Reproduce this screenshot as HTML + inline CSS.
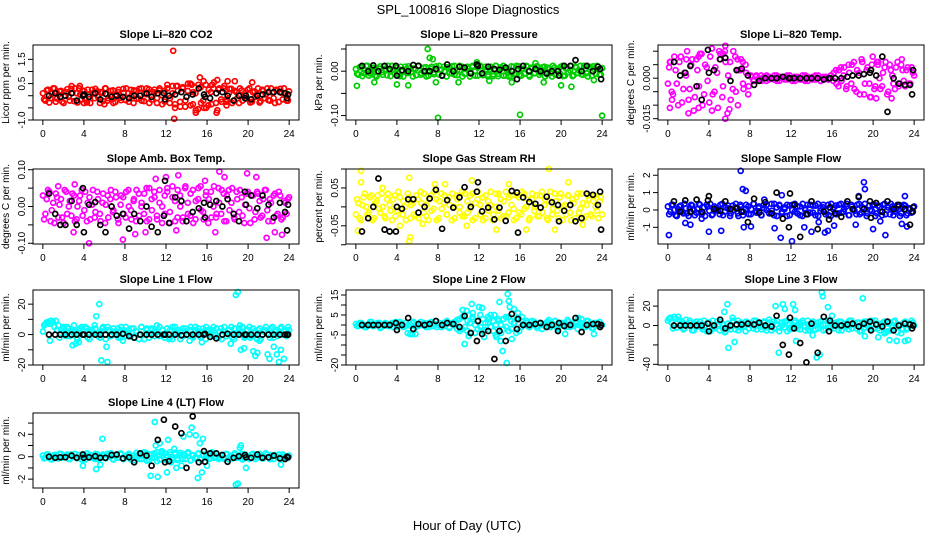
<!DOCTYPE html>
<html><head><meta charset="utf-8"><title>SPL_100816 Slope Diagnostics</title>
<style>
html,body{margin:0;padding:0;background:#fff;}
svg{display:block;font-family:"Liberation Sans",Arial,sans-serif;}
</style></head>
<body>
<svg id="chart" width="936" height="540" viewBox="0 0 936 540" xmlns="http://www.w3.org/2000/svg">
<rect x="0" y="0" width="936" height="540" fill="#fff"/>
<text x="468" y="14" font-size="13" text-anchor="middle">SPL_100816  Slope Diagnostics</text>
<text x="467" y="530" font-size="13" text-anchor="middle">Hour of Day (UTC)</text>
</svg>
<script>
// ---- shared data ----
const xTicks = [0,4,8,12,16,20,24];
const blackHours = [0.6,1.2,1.7,2.2,2.8,3.3,3.9,4.0,4.5,5.1,5.6,6.1,6.7,7.2,7.8,8.4,8.9,9.5,10.1,10.6,11.2,11.8,11.9,12.3,12.9,13.5,14.0,14.6,15.2,15.7,15.8,16.3,16.9,17.5,18.0,18.6,19.1,19.7,19.8,20.3,20.9,21.4,22.0,22.5,23.1,23.6,23.8,23.9];

// Panel 1: CO2
const co2Band = [0.1,-0.2,0.25,-0.1,0.3,-0.25,0.05,0.2,-0.3,0.15,-0.05,0.28,-0.22,0.1,0.3,-0.15,0.2,-0.28,0.05,0.25,-0.1,0.18,-0.3,0.12,0.3,-0.2,0.0,0.22,-0.26,0.15,-0.08,0.28,-0.18,0.1,0.24,-0.3,0.2,-0.12,0.3,-0.22,0.06,0.26,-0.16,0.14,-0.3,0.22,0.02,-0.24,0.3,-0.1,0.4,-0.35,0.2,-0.45,0.35,-0.2,0.5,-0.4,0.15,-0.6,0.45,-0.3,0.6,-0.5,0.25,-0.35,0.55,-0.7,0.3,-0.25,0.4,-0.15,0.28,-0.3,0.2,-0.1,0.3,-0.2,0.1,0.25,-0.28,0.15,-0.05,0.3,-0.22,0.2,0.05,-0.18,0.3,-0.1,0.25,-0.26,0.12,0.3,-0.2,0.18];
const co2BandB = [-0.15,0.22,-0.28,0.08,0.3,-0.12,0.18,-0.25,0.0,0.27,-0.2,0.12,0.3,-0.28,0.05,0.2,-0.15,0.25,-0.3,0.1,0.28,-0.05,0.15,-0.22,0.3,-0.1,0.2,-0.3,0.05,0.25,-0.18,0.12,0.3,-0.25,0.0,0.22,-0.12,0.28,-0.2,0.08,0.3,-0.3,0.15,0.25,-0.1,0.3,-0.35,0.2,0.45,-0.3,0.1,-0.5,0.4,-0.25,0.3,-0.45,0.2,0.5,-0.35,0.1,-0.55,0.35,-0.2,0.45,-0.4,0.15,0.3,-0.3,0.25,-0.15,0.3,-0.25,0.1,0.28,-0.2,0.15,-0.3,0.22,0.0,-0.12,0.3,-0.25,0.18,0.05,-0.28,0.25,-0.1,0.3,-0.2,0.12,-0.3,0.22,0.28,-0.15,0.1,-0.2];
const co2Out = [[12.7,1.85],[12.8,-0.95],[15.3,0.75],[14.9,-0.7],[15.7,-0.5],[17.0,0.65],[17.0,-0.6],[18.0,0.6],[18.7,0.6],[17.9,-0.4],[20.4,0.55],[16.5,0.45],[14.5,0.45],[13.0,0.4],[4.0,-0.3],[6.0,-0.35],[2.8,0.4],[3.6,0.4]];
const co2Black = [0.0,0.1,-0.05,0.0,0.1,-0.2,0.0,0.05,-0.05,0.1,-0.15,0.08,-0.05,0.0,-0.05,-0.1,0.0,0.0,0.1,-0.05,0.1,0.1,-0.15,0.0,0.05,0.15,-0.05,0.05,0.3,0.05,-0.05,-0.1,0.1,0.15,0.0,-0.2,0.0,-0.1,0.0,-0.15,0.0,0.05,0.15,0.15,0.15,0.1,-0.1,0.05];
const co2Ticks = [-1.0,-0.5,0,0.5,1.0,1.5];
const co2TickLabels = ["-1.0","","","0.5","","1.5"];

// Panel 2: Pressure
const presBand = [0.005,-0.008,0.01,-0.004,0.012,-0.01,0.002,0.008,-0.012,0.006,-0.002,0.011,-0.009,0.004,0.012,-0.006,0.008,-0.011,0.002,0.01,-0.004,0.007,-0.012,0.005,0.012,-0.008,0.0,0.009,-0.01,0.006,-0.003,0.011,-0.007,0.004,0.01,-0.012,0.008,-0.005,0.012,-0.009,0.002,0.01,-0.006,0.006,-0.012,0.009,0.001,-0.01,0.012,-0.004,0.01,-0.008,0.005,-0.011,0.012,-0.006,0.009,-0.01,0.004,-0.012,0.011,-0.007,0.012,-0.009,0.005,-0.006,0.01,-0.012,0.006,-0.004,0.011,-0.003,0.009,-0.012,0.008,-0.004,0.012,-0.008,0.004,0.01,-0.011,0.006,-0.002,0.012,-0.009,0.008,0.002,-0.007,0.012,-0.004,0.01,-0.01,0.005,0.012,-0.008,0.007];
const presBandB = [-0.006,0.009,-0.011,0.003,0.012,-0.005,0.007,-0.01,0.0,0.011,-0.008,0.005,0.012,-0.011,0.002,0.008,-0.006,0.01,-0.012,0.004,0.011,-0.002,0.006,-0.009,0.012,-0.004,0.008,-0.012,0.002,0.01,-0.007,0.005,0.012,-0.01,0.0,0.009,-0.005,0.011,-0.008,0.003,0.012,-0.012,0.006,0.01,-0.004,0.012,-0.01,0.008,0.011,-0.009,0.004,-0.012,0.01,-0.007,0.012,-0.011,0.006,0.012,-0.01,0.003,-0.012,0.01,-0.006,0.011,-0.01,0.005,0.012,-0.009,0.008,-0.005,0.011,-0.008,0.003,0.01,-0.007,0.005,-0.012,0.008,0.0,-0.005,0.012,-0.01,0.007,0.002,-0.011,0.01,-0.004,0.012,-0.008,0.005,-0.012,0.009,0.011,-0.006,0.004,-0.008];
const presOut = [[7.0,0.05],[7.2,0.03],[7.5,0.027],[8.0,-0.105],[16.0,-0.098],[24.0,-0.1],[0.1,-0.033],[4.0,-0.03],[5.1,-0.032],[20.0,-0.032],[21.0,-0.035],[1.8,-0.025],[7.8,-0.025],[10.0,-0.025],[15.2,-0.025],[18.3,-0.025],[13.0,-0.022],[11.8,0.02],[17.5,0.018],[23.2,-0.02]];
const presBlack = [0.012,0.0,0.013,0.0,0.012,0.005,0.012,-0.01,0.002,0.0,0.014,0.012,0.0,0.0,0.005,-0.01,0.015,0.0,0.01,0.008,-0.005,0.015,0.012,-0.005,0.01,0.005,0.003,0.008,0.0,-0.018,0.005,0.012,0.0,0.005,0.0,-0.005,0.0,0.0,-0.01,0.012,0.012,0.025,0.0,0.012,0.0,0.01,0.005,-0.018];
const presTicks = [-0.10,-0.05,0.00,0.05];
const presTickLabels = ["-0.10","","0.00",""];

// Panel 3: Li-820 Temp
const tempBand = [-0.002,0.006,-0.006,0.003,-0.01,0.008,-0.004,0.001,-0.008,0.005,-0.012,0.007,-0.003,0.009,-0.006,0.004,-0.009,0.011,-0.005,0.002,0.007,-0.007,0.01,-0.013,0.006,-0.004,0.008,-0.01,0.003,-0.002,0.005,-0.006,0.001,-0.001,0.0005,-0.0005,0.001,0.0,-0.001,0.0005,0.0,-0.0005,0.001,-0.001,0.0,0.0005,-0.0005,0.001,0.0,-0.001,0.0005,0.0,-0.0005,0.001,-0.001,0.0,0.0005,-0.0005,0.001,-0.001,0.0,0.0005,-0.0005,0.001,0.002,-0.002,0.003,-0.001,0.004,-0.003,0.002,0.005,-0.004,0.003,-0.006,0.006,-0.002,0.004,-0.007,0.008,-0.003,0.005,-0.004,0.002,0.006,-0.005,0.003,-0.002,0.004,-0.003,0.005,-0.001,0.003,-0.002,0.004,0.001];
const tempBandB = [0.004,-0.005,0.008,-0.002,0.006,-0.009,0.002,0.01,-0.004,0.007,-0.007,0.003,0.009,-0.01,0.005,-0.001,0.008,-0.006,0.004,-0.011,0.009,-0.003,0.006,0.001,-0.008,0.01,-0.005,0.003,0.007,-0.004,0.002,-0.003,0.0005,-0.0005,0.001,0,-0.001,0.0005,0.001,-0.0005,0,0.001,-0.001,0.0005,0,-0.0005,0.001,0,-0.001,0.0005,0,-0.0005,0.001,-0.001,0.0005,0,-0.0005,0.001,0,-0.001,0.0005,0,-0.0005,0.001,-0.001,0.003,-0.003,0.004,0.001,-0.004,0.005,-0.002,0.006,-0.005,0.002,0.007,-0.006,0.003,-0.002,0.005,-0.004,0.006,0.0,-0.003,0.004,-0.006,0.005,0.001,-0.004,0.006,-0.002,0.003,-0.003,0.004,-0.002,0.002];
const tempOut = [[5.6,0.012],[5.0,0.01],[5.4,0.009],[2.0,-0.013],[5.6,-0.015],[0.2,-0.011],[4.3,-0.012],[3.0,-0.011],[6.0,-0.0115],[0.4,-0.008],[0.2,0.006],[22.8,0.007],[20.5,0.006],[19.8,-0.007],[20.3,-0.0075],[21.8,-0.0075],[1.8,0.007],[3.0,0.008],[6.8,0.007],[7.3,0.006]];
const tempBlack = [0.006,0.001,0.002,0.0045,-0.003,-0.008,0.0105,0.002,0.003,0.007,0.0075,-0.001,0.003,0.0035,0.001,-0.0025,-0.001,0,0,0,0.0005,0,0,0,0,0,0,0,-0.0005,0,0,0,0,0.0005,0.001,0.001,0.0015,0.002,0.003,0.001,0.008,-0.0125,0,-0.002,-0.0025,-0.0025,-0.006,0.003];
const tempTicks = [-0.015,-0.010,-0.005,0.000,0.005,0.010];
const tempTickLabels = ["-0.015","","","0.000","",""];

// Panel 4: Amb Box Temp
const ambBand = [0.03,-0.02,0.045,-0.04,0.01,0.035,-0.03,0.02,-0.045,0.04,0.0,-0.025,0.03,-0.035,0.015,0.045,-0.01,-0.04,0.025,0.005,-0.03,0.04,-0.02,0.01,-0.045,0.03,0.02,-0.015,0.04,-0.035,0.005,0.025,-0.03,0.045,-0.01,0.015,-0.04,0.035,0.0,-0.02,0.05,-0.035,0.02,0.04,-0.025,0.01,-0.045,0.03,0.05,-0.015,0.025,-0.04,0.045,0.0,-0.03,0.055,-0.02,0.035,-0.045,0.015,0.05,-0.01,-0.035,0.04,0.02,-0.03,0.055,-0.02,0.01,0.045,-0.04,0.03,-0.01,0.05,-0.035,0.02,0.045,-0.025,0.005,0.04,-0.045,0.03,-0.015,0.035,-0.03,0.02,0.045,-0.04,0.01,0.03,-0.025,0.04,-0.035,0.015,-0.02,0.025];
const ambBandB = [-0.035,0.02,0.04,-0.01,-0.045,0.025,0.005,-0.03,0.045,-0.02,0.015,0.035,-0.04,0.0,0.03,-0.025,0.04,0.01,-0.035,0.045,-0.015,0.02,-0.04,0.035,0.005,-0.03,0.045,-0.01,0.025,-0.045,0.03,-0.02,0.04,0.0,-0.035,0.02,0.045,-0.025,0.01,0.035,-0.04,0.05,-0.01,0.025,-0.035,0.045,0.0,-0.02,0.04,-0.045,0.055,0.015,-0.03,0.03,-0.04,0.05,0.01,-0.025,0.045,-0.035,0.02,0.055,-0.015,0.03,-0.045,0.04,0.0,-0.03,0.05,-0.02,0.035,-0.04,0.045,0.01,-0.03,0.04,-0.015,0.025,-0.045,0.035,-0.005,0.03,-0.035,0.04,0.015,-0.025,0.045,-0.01,0.02,-0.04,0.035,-0.02,0.03,-0.03,0.01,0.02];
const ambOut = [[4.5,-0.1],[3.0,-0.07],[7.8,-0.09],[10.0,-0.07],[12.0,0.08],[13.2,0.085],[17.2,0.095],[17.7,0.08],[19.9,0.09],[20.8,0.08],[21.8,-0.085],[22.6,-0.07],[16.8,-0.07],[13.0,-0.065],[15.8,0.07],[3.1,0.06],[1.5,0.055],[23.3,-0.077],[9.0,-0.075],[11.0,0.075]];
const ambBlack = [0.035,-0.02,-0.05,-0.05,0.015,-0.05,0.05,-0.07,0.005,0.012,-0.05,-0.07,0.0,-0.025,-0.02,-0.06,-0.02,-0.04,0.0,-0.055,-0.07,-0.025,0.07,-0.045,0.025,0.015,-0.04,-0.015,-0.005,0.01,-0.03,0.005,0.015,0.0,0.02,-0.02,-0.04,0.04,0.005,0.03,-0.005,0.03,0.005,-0.03,0.01,-0.015,-0.065,0.005];
const ambTicks = [-0.10,-0.05,0.00,0.05,0.10];
const ambTickLabels = ["-0.10","","0.00","","0.10"];

// Panel 5: Gas Stream RH
const rhBand = [-0.02,0.01,-0.035,0.025,0.0,-0.015,0.03,-0.03,0.015,-0.005,0.035,-0.025,0.02,0.005,-0.035,0.03,-0.01,0.025,-0.02,0.0,0.035,-0.03,0.01,-0.025,0.02,0.04,-0.015,0.005,-0.035,0.03,-0.005,0.02,-0.03,0.035,0.01,-0.02,0.025,-0.035,0.0,0.03,-0.015,0.04,-0.025,0.015,-0.005,0.035,-0.03,0.02,0.005,-0.035,0.03,-0.01,0.04,-0.02,0.0,0.035,-0.03,0.015,-0.025,0.025,0.005,-0.035,0.03,-0.015,0.04,-0.005,0.02,-0.03,0.035,0.0,-0.025,0.03,-0.015,0.02,-0.035,0.04,-0.005,0.015,-0.03,0.035,0.0,-0.02,0.03,-0.035,0.01,0.025,-0.015,0.035,-0.03,0.005,0.02,-0.025,0.03,-0.01,0.015,-0.02];
const rhBandB = [0.02,-0.03,0.005,0.035,-0.02,0.025,-0.035,0.01,0.03,-0.015,0.0,-0.03,0.035,-0.01,0.02,-0.025,0.04,-0.005,0.015,-0.035,0.025,0.005,-0.02,0.03,-0.03,0.01,0.035,-0.025,0.02,-0.01,0.04,-0.035,0.015,-0.005,0.03,-0.02,0.005,0.035,-0.03,0.02,0.0,-0.025,0.035,-0.015,0.03,-0.035,0.01,0.04,-0.02,0.025,-0.03,0.015,0.005,-0.035,0.035,-0.01,0.02,-0.025,0.04,-0.015,0.03,-0.005,-0.03,0.025,-0.02,0.035,0.0,-0.035,0.02,-0.01,0.03,-0.025,0.04,0.005,-0.03,0.015,-0.02,0.035,-0.01,0.025,-0.035,0.005,0.03,-0.015,0.02,-0.03,0.035,-0.005,0.01,-0.025,0.03,-0.02,0.015,0.0,-0.03,0.025];
const rhOut = [[0.5,0.095],[0.5,0.065],[0.2,-0.063],[5.2,0.077],[5.2,-0.09],[5.3,-0.08],[11.3,0.07],[18.8,0.1],[19.4,-0.06],[16.6,-0.06],[13.7,-0.06],[7.7,0.06],[8.7,0.06],[14.9,0.06],[20.7,0.065],[22.1,-0.047],[4.3,-0.05],[2.6,0.05],[6.5,-0.045],[10.8,-0.05]];
const rhBlack = [-0.065,-0.03,0.0,0.075,-0.06,-0.065,-0.065,0.0,-0.005,0.02,0.02,-0.015,0.0,0.022,0.045,-0.058,0.018,-0.002,0.025,0.052,0.0,0.04,0.065,-0.012,-0.002,-0.033,-0.002,-0.037,0.042,0.038,-0.068,0.025,0.013,0.008,-0.002,0.027,0.012,0.005,-0.038,-0.01,0.005,-0.038,-0.03,0.035,0.032,0.005,0.04,-0.06];
const rhTicks = [-0.10,-0.05,0.00,0.05,0.10];
const rhTickLabels = ["","-0.05","","0.05",""];

// Panel 6: Sample Flow
const sfBand = [0.2,-0.1,0.3,-0.3,0.05,0.25,-0.2,0.1,-0.35,0.3,0.0,-0.15,0.35,-0.25,0.15,0.3,-0.05,-0.3,0.2,0.05,-0.25,0.35,-0.1,0.1,-0.35,0.25,0.15,-0.2,0.3,-0.3,0.05,0.2,-0.25,0.35,-0.05,0.1,-0.3,0.3,0.0,-0.15,0.35,-0.3,0.15,0.3,-0.2,0.05,-0.35,0.25,0.3,-0.1,0.2,-0.3,0.35,0.0,-0.25,0.3,-0.15,0.25,-0.35,0.1,0.3,-0.05,-0.3,0.35,0.15,-0.25,0.3,-0.15,0.05,0.35,-0.3,0.2,-0.05,0.3,-0.25,0.15,0.35,-0.2,0.0,0.3,-0.35,0.25,-0.1,0.3,-0.25,0.15,0.35,-0.3,0.05,0.2,-0.2,0.3,-0.3,0.1,-0.15,0.2];
const sfBandB = [-0.25,0.3,0.0,-0.35,0.2,-0.1,0.35,-0.2,0.1,0.25,-0.3,0.05,0.3,-0.15,-0.35,0.2,0.35,-0.25,0.1,-0.05,0.3,-0.3,0.15,0.25,-0.2,0.0,0.35,-0.35,0.2,-0.1,0.3,-0.25,0.05,0.35,-0.15,0.2,-0.3,0.1,0.3,-0.2,-0.05,0.35,-0.35,0.25,-0.1,0.15,0.3,-0.3,0.0,0.35,-0.2,0.2,-0.35,0.1,0.3,-0.15,0.25,-0.3,0.35,-0.05,0.15,-0.25,0.3,-0.35,0.05,0.25,-0.2,0.35,-0.1,0.2,-0.3,0.3,0.0,-0.25,0.35,-0.15,0.1,-0.35,0.25,-0.05,0.3,-0.2,0.15,-0.3,0.35,0.0,-0.25,0.2,-0.1,0.3,-0.35,0.15,0.25,-0.2,0.05,-0.1];
const sfOut = [[0.1,-1.45],[1.7,-0.75],[2.2,-0.85],[4.0,-1.25],[5.2,-1.2],[7.1,2.25],[7.3,1.2],[7.6,1.1],[7.4,-1.0],[8.1,-0.95],[10.4,-1.05],[11.0,-1.6],[11.1,0.85],[12.1,-1.8],[13.3,-1.0],[14.0,-1.25],[14.7,-0.7],[15.3,-1.3],[15.6,-1.2],[16.2,-0.9],[18.3,-0.85],[18.6,0.8],[19.1,1.6],[19.2,1.2],[20.0,-1.1],[20.7,-0.65],[21.2,-1.45],[22.8,-0.8],[23.1,0.8],[23.3,-0.95],[3.3,-0.5],[9.4,0.6]];
const sfBlack = [0.5,-0.1,0.55,-0.1,0.6,-0.1,0.55,0.8,0.05,-0.05,0.5,0.05,0.1,-0.1,-0.7,0.65,-0.15,0.45,-0.2,1.0,-0.5,-1.0,0.95,0.3,-1.55,-0.25,0.5,-1.1,-0.1,-0.55,0.15,-0.2,-0.4,0.5,0.05,0.75,0.05,0.5,-0.45,0.4,-0.1,0.5,0.05,0.3,0.05,-0.85,-0.1,0.15];
const sfTicks = [-1,0,1,2];
const sfTickLabels = ["-1","0","1","2"];

// Panel 7: Line 1 Flow
const l1Band = [2,7,8,9,8,9,6,3,5,-1,4,2,6,-2,3,5,0,4,-3,2,6,1,-2,4,3,5,-1,2,0,4,-2,3,5,1,-1,4,2,-3,5,0,3,-2,4,2,6,-1,3,0,4,-2,5,1,3,-3,4,2,0,5,-1,3,4,-2,2,5,0,3,-1,4,2,-3,5,1,3,-2,4,0,2,5,-1,3,-2,4,1,3,-3,2,5,0,4,-2,3,1,5,2,-1,3];
const l1BandB = [6,8,7,9,5,3,-2,4,1,5,-1,3,2,-3,4,0,5,-2,3,1,4,-1,2,5,-3,3,0,4,2,-2,5,1,-1,3,4,-2,2,0,5,-3,4,1,3,-1,2,5,0,-2,4,3,-3,5,1,2,-1,4,0,3,-2,5,2,-1,4,-3,3,1,5,0,-2,4,2,-1,3,5,-3,1,4,0,-2,3,5,-1,2,-3,4,0,3,1,-2,5,2,-1,4,0,3,1];
const l1Out = [[0.7,-4],[2.9,-7],[3.2,-6],[3.5,-5],[5.2,12],[5.5,20],[5.7,-17],[6.2,-8],[6.3,-18],[7.8,-4],[18.3,-6],[18.8,26],[19.0,28],[19.2,6],[19.3,-10],[19.6,-9],[20.5,-11],[20.7,-14],[20.9,-12],[21.1,-4],[21.9,-13],[22.1,-16],[22.5,-8],[22.8,-13],[23.0,-18],[23.2,-10],[23.5,-16],[23.9,5],[12.3,-3],[14.3,-4],[15.5,-5]];
const l1Black = [0,0,0,0,0,0,0,0,0,0,0,0,0,0,0.5,-1,-2,0,0,0,0,0,0,0,0,-0.5,0,0,0,0,0.5,-1.5,-2.5,0,0.5,0,0,0,0,0,0,0,0,0,0,0,0,0];
const l1Ticks = [-20,-10,0,10,20];
const l1TickLabels = ["-20","","0","","20"];

// Panel 8: Line 2 Flow
const l2Band = [0.5,-0.5,1,0,-1,0.5,1.5,-0.5,0,1,-1,0.5,0,-0.5,1,0.5,-1,1.5,0,-0.5,-4,-4.5,1,0.5,-0.5,1.5,0,-1,1,0.5,-0.5,2,0,-1,1,0.5,-1.5,1,0,2.5,3,-2,5,-3,1,4,-4,2,-1,3,-2.5,1,5,-3,0,2,-4,3,-1,4,-2,1,3,-3,2,0,1,-1,2,0.5,-1.5,1,0,-0.5,1.5,-1,0.5,2,-2,1,0,-1,1.5,0.5,-0.5,1,0,3,-1,2,0.5,-1.5,1,0,1.5,0];
const l2BandB = [-0.5,1,0.5,-1,0,1.5,-0.5,0.5,1,-1.5,0,1,-0.5,0.5,-1,1.5,0,0.5,-1,1,0,-0.5,1.5,-1,0.5,0,1,-0.5,-1,1.5,0.5,-1,1,0,-0.5,2,-1,0.5,1.5,-2,-3,4,-1,2,-4,3,0,-2,5,-3,1,4,-1,2,-5,3,0,-2,4,-3,2,1,-4,3,-1,0.5,2,-1,0,1.5,-0.5,1,-2,0.5,1.5,-1,0,2,-1.5,0.5,1,-0.5,2.5,-1,0,1.5,-2,1,0.5,-1,2,0,-1.5,1,0.5,-0.5];
const l2Out = [[5.5,-4.5],[5.8,-4.5],[5.3,-4.5],[10.4,7.5],[10.8,7],[11.0,-5.5],[10.6,-9.5],[11.3,10.5],[11.4,6],[12.0,9],[12.3,8.5],[12.5,-6],[13.0,3],[13.5,5],[13.7,-6],[14.0,11.5],[14.3,-13],[14.1,-8],[14.7,-19],[14.8,15.5],[14.9,12],[15.0,9],[15.2,-7],[15.4,8],[15.8,6],[16.2,4],[20.4,-4.5],[23.2,-4.5],[18.8,2.5],[21.7,3.5]];
const l2Black = [0,0,0,0,0,0,1,-2.5,0,3.5,-2,0.5,0,0.5,2,0,1,0.5,-1,4.5,-4,-8,2,-4.5,-3,-17,-3,-8,5.5,-2,3,0,0,0.5,1,-1,0,-3,1,-0.5,0,3.5,-3.5,0,0.5,0.5,-1,0];
const l2Ticks = [-20,-15,-10,-5,0,5,10,15];
const l2TickLabels = ["-20","","","-5","","5","","15"];

// Panel 9: Line 3 Flow
const l3Band = [5,8,-3,7,9,2,-4,6,0,3,-5,4,1,-2,5,-6,3,0,-3,4,-5,2,-7,-3,0,4,-4,5,-2,1,-6,3,2,-3,5,0,-4,3,-2,6,-5,4,1,-6,3,-2,5,-4,0,3,-3,2,5,-5,1,-2,4,-4,3,0,-5,5,-2,3,-3,1,4,-5,2,-1,5,-3,0,3,-6,2,-2,4,-4,1,5,-3,0,3,-7,2,-5,4,-2,1,-8,3,-4,2,5,0];
const l3BandB = [7,3,9,-2,6,4,-3,1,5,-5,2,-1,4,-4,0,3,-6,5,-2,1,4,-3,-6,2,-4,5,0,-5,3,-1,4,-3,0,5,-4,2,-1,4,-5,3,1,-3,5,-2,0,4,-6,2,-3,5,0,-4,3,-1,5,-5,2,0,-3,4,1,-4,5,-2,0,3,-5,4,-1,2,-4,5,1,-3,3,-6,4,0,-2,5,-3,2,-5,1,4,-6,3,-2,5,-7,0,-4,4,-3,2,3];
const l3Out = [[5.8,22],[5.5,14],[5.9,-23],[6.3,8],[6.5,-17],[10.5,20],[10.8,-28],[11.2,22],[11.4,17],[12.2,22],[12.4,16],[12.5,-16],[12.8,3],[14.1,-10],[14.5,-33],[14.8,-30],[15.0,34],[15.1,30],[15.6,19],[15.8,5],[16.0,10],[19.0,28],[19.2,-11],[20.5,-12],[21.1,-8],[21.6,-15],[22.3,-16],[23.1,-16],[23.4,-15],[13.7,-5]];
const l3Black = [0,0,0,0,0,0,2,-6,0,6,-3,0,1,1,2,1,3,0,-1,10,-20,-30,8,-3,-18,-38,2,-28,9,-6,5,0,0,1,2,-1,2,4,-5,1,-1,4,-5,0,2,1,-3,0];
const l3Ticks = [-40,-20,0,20];
const l3TickLabels = ["-40","","0","20"];

// Panel 10: Line 4 (LT) Flow
const l4Band = [0.1,-0.1,0.2,-0.2,0.05,0.15,-0.15,0.25,-0.05,0.1,-0.2,0.2,0.0,-0.1,0.15,-0.25,0.1,0.3,-0.1,0.05,-0.2,0.2,-0.05,0.1,-0.15,0.25,0.0,-0.2,0.15,-0.1,0.3,-0.15,0.05,0.2,-0.25,0.1,-0.05,0.2,-0.2,0.15,0.3,-0.3,0.2,-0.1,0.4,-0.25,0.1,0.3,-0.35,0.2,-0.1,0.35,-0.3,0.15,0.25,-0.2,0.4,-0.3,0.1,-0.15,0.3,-0.25,0.2,0.05,-0.2,0.15,-0.1,0.25,-0.05,0.1,-0.2,0.2,0.0,-0.15,0.3,-0.1,0.15,-0.25,0.2,0.05,-0.1,0.25,-0.2,0.1,0.0,-0.15,0.3,-0.05,0.15,-0.2,0.1,0.2,-0.1,0.05,-0.15,0.1];
const l4BandB = [-0.15,0.2,0.0,-0.25,0.15,-0.05,0.25,-0.1,0.1,0.2,-0.2,0.05,0.25,-0.15,-0.05,0.2,-0.25,0.1,0.15,-0.1,0.25,-0.2,0.0,0.2,-0.15,0.1,0.3,-0.25,0.05,-0.1,0.2,-0.2,0.1,0.25,-0.05,-0.3,0.35,-0.2,0.1,0.4,-0.35,0.2,-0.1,0.3,-0.4,0.15,0.35,-0.25,0.05,0.4,-0.3,0.2,-0.15,0.35,-0.2,0.1,0.3,-0.35,0.15,-0.05,0.25,-0.2,0.1,-0.1,0.2,-0.15,0.25,0.0,-0.2,0.15,-0.05,0.25,-0.25,0.1,0.2,-0.1,0.0,0.25,-0.15,0.1,-0.2,0.2,0.05,-0.1,0.25,-0.15,0.0,0.2,-0.2,0.1,0.15,-0.05,-0.15,0.2,0.05,-0.1];
const l4Out = [[5.8,1.6],[5.2,-1.1],[3.9,-0.8],[5.6,-0.7],[10.5,-1.7],[10.9,3.1],[11.0,1.0],[11.2,-1.8],[11.4,1.2],[11.6,0.5],[12.1,-1.4],[12.2,1.5],[12.8,0.7],[13.0,-1.0],[13.5,-0.8],[13.7,1.8],[14.3,2.0],[14.5,2.6],[14.9,1.9],[15.1,-1.9],[15.3,1.2],[15.6,1.6],[15.5,-1.4],[16.0,-0.8],[18.8,-2.5],[19.0,-2.4],[19.3,1.0],[19.2,0.8],[19.8,-1.0],[23.2,-0.7],[16.5,0.4],[12.5,-0.5]];
const l4Black = [0,-0.1,-0.05,-0.05,0.1,-0.1,0.2,-0.1,-0.05,0.05,-0.1,-0.1,0.15,0.2,-0.15,-0.05,-0.5,0.3,0.1,-0.8,1.5,3.3,-0.5,-0.4,2.7,2.1,-1.0,3.6,-0.5,0.5,-0.45,0.3,0.3,0.15,-0.45,-0.1,0.05,0.15,-0.05,-0.1,0.2,-0.1,-0.05,0.1,-0.15,-0.2,0.0,-0.05];
const l4Ticks = [-2,-1,0,1,2,3];
const l4TickLabels = ["-2","","0","","2",""];

// ---- layout (positions, not data) ----
const colLeft = [33, 346, 658];
const rowTop = [45, 169, 290, 413];
const boxW = 266, boxH = 75;

const panels = [
 {name:'co2', title:'Slope Li\u2013820 CO2', ylab:'Licor ppm per min.', color:'#ff0000', dom:[-1.0,2.09], band:co2Band, bandB:co2BandB, out:co2Out, black:co2Black, ticks:co2Ticks, labels:co2TickLabels, c:0, r:0},
 {name:'pressure', title:'Slope Li\u2013820 Pressure', ylab:'kPa per min.', color:'#00cd00', dom:[-0.110,0.059], band:presBand, bandB:presBandB, out:presOut, black:presBlack, ticks:presTicks, labels:presTickLabels, c:1, r:0},
 {name:'li820-temp', title:'Slope Li\u2013820 Temp.', ylab:'degrees C per min.', color:'#ff00ff', dom:[-0.0155,0.0123], band:tempBand, bandB:tempBandB, out:tempOut, black:tempBlack, ticks:tempTicks, labels:tempTickLabels, c:2, r:0},
 {name:'amb-box-temp', title:'Slope Amb. Box Temp.', ylab:'degrees C per min.', color:'#ff00ff', dom:[-0.102,0.102], band:ambBand, bandB:ambBandB, out:ambOut, black:ambBlack, ticks:ambTicks, labels:ambTickLabels, c:0, r:1},
 {name:'gas-stream-rh', title:'Slope Gas Stream RH', ylab:'percent per min.', color:'#ffff00', dom:[-0.098,0.1], band:rhBand, bandB:rhBandB, out:rhOut, black:rhBlack, ticks:rhTicks, labels:rhTickLabels, c:1, r:1},
 {name:'sample-flow', title:'Slope Sample Flow', ylab:'ml/min per min.', color:'#0000ff', dom:[-1.96,2.36], band:sfBand, bandB:sfBandB, out:sfOut, black:sfBlack, ticks:sfTicks, labels:sfTickLabels, c:2, r:1},
 {name:'line1-flow', title:'Slope Line 1 Flow', ylab:'ml/min per min.', color:'#00ffff', dom:[-20,29.3], band:l1Band, bandB:l1BandB, out:l1Out, black:l1Black, ticks:l1Ticks, labels:l1TickLabels, c:0, r:2},
 {name:'line2-flow', title:'Slope Line 2 Flow', ylab:'ml/min per min.', color:'#00ffff', dom:[-20,17.5], band:l2Band, bandB:l2BandB, out:l2Out, black:l2Black, ticks:l2Ticks, labels:l2TickLabels, c:1, r:2},
 {name:'line3-flow', title:'Slope Line 3 Flow', ylab:'ml/min per min.', color:'#00ffff', dom:[-40.7,36.6], band:l3Band, bandB:l3BandB, out:l3Out, black:l3Black, ticks:l3Ticks, labels:l3TickLabels, c:2, r:2},
 {name:'line4-flow', title:'Slope Line 4 (LT) Flow', ylab:'ml/min per min.', color:'#00ffff', dom:[-2.79,3.9], band:l4Band, bandB:l4BandB, out:l4Out, black:l4Black, ticks:l4Ticks, labels:l4TickLabels, c:0, r:3}
];

const NS = 'http://www.w3.org/2000/svg';
const svg = document.getElementById('chart');
function mk(tag, attrs, parent){
  const e = document.createElementNS(NS, tag);
  for (const k in attrs) e.setAttribute(k, attrs[k]);
  parent.appendChild(e);
  return e;
}
const XMIN = -0.96, XMAX = 24.96;
const R = 2.5, SW = 1.7;

panels.forEach(p => {
  const L = colLeft[p.c], T = rowTop[p.r], B = T + boxH;
  const xs = h => L + (h - XMIN) / (XMAX - XMIN) * boxW;
  const ys = v => B - (v - p.dom[0]) / (p.dom[1] - p.dom[0]) * boxH;
  const g = mk('g', {}, svg);
  
  

  const t = mk('text', {x: L + boxW/2, y: T - 7, 'font-size': 11, 'font-weight': 'bold', 'text-anchor': 'middle'}, g);
  t.textContent = p.title;
  
  

  const yl = mk('text', {x: 0, y: 0, 'font-size': 10, 'text-anchor': 'middle', transform: 'translate(' + (L - 24) + ',' + (T + boxH/2) + ') rotate(-90)'}, g);
  yl.textContent = p.ylab;
  
  

  const pts = mk('g', {fill: 'none', stroke: p.color, 'stroke-width': SW}, g);
  
  
  const n = p.band.length;
  p.band.forEach((v, i) => {
    const h = i * 24 / (n - 1);
    const c = mk('circle', {cx: xs(h).toFixed(1), cy: ys(v).toFixed(1), r: R}, pts);
    
    
  });
  const nb = p.bandB.length;
  p.bandB.forEach((v, i) => {
    const h = (i + 0.5) * 24 / nb;
    const c = mk('circle', {cx: xs(h).toFixed(1), cy: ys(v).toFixed(1), r: R}, pts);
    
    
  });
  p.out.forEach(d => {
    const c = mk('circle', {cx: xs(d[0]).toFixed(1), cy: ys(d[1]).toFixed(1), r: R}, pts);
    
    
  });
  const bpts = mk('g', {fill: 'none', stroke: '#000', 'stroke-width': SW}, g);
  
  
  const m = Math.min(blackHours.length, p.black.length);
  for (let i = 0; i < m; i++) {
    const c = mk('circle', {cx: xs(blackHours[i]).toFixed(1), cy: ys(p.black[i]).toFixed(1), r: R}, bpts);
    
    
  }

  const box = mk('rect', {x: L, y: T, width: boxW, height: boxH, fill: 'none', stroke: '#000', 'stroke-width': 1}, g);
  
  

  const xa = mk('g', {stroke: '#000', 'stroke-width': 1}, g);
  
  
  xTicks.forEach(h => {
    const x = xs(h);
    mk('line', {x1: x, y1: B, x2: x, y2: B + 5}, xa);
    const tl = mk('text', {x: x, y: B + 17, 'font-size': 10, 'text-anchor': 'middle', stroke: 'none', fill: '#000'}, xa);
    tl.textContent = h;
    
    
  });
  const ya = mk('g', {stroke: '#000', 'stroke-width': 1}, g);
  
  
  p.ticks.forEach((v, i) => {
    const y = ys(v);
    mk('line', {x1: L - 5, y1: y, x2: L, y2: y}, ya);
    if (p.labels[i]) {
      const tl = mk('text', {x: 0, y: 0, 'font-size': 10, 'text-anchor': 'middle', stroke: 'none', fill: '#000', transform: 'translate(' + (L - 8) + ',' + y + ') rotate(-90)'}, ya);
      tl.textContent = p.labels[i];
      
      
    }
  });
});
</script>
</body></html>
